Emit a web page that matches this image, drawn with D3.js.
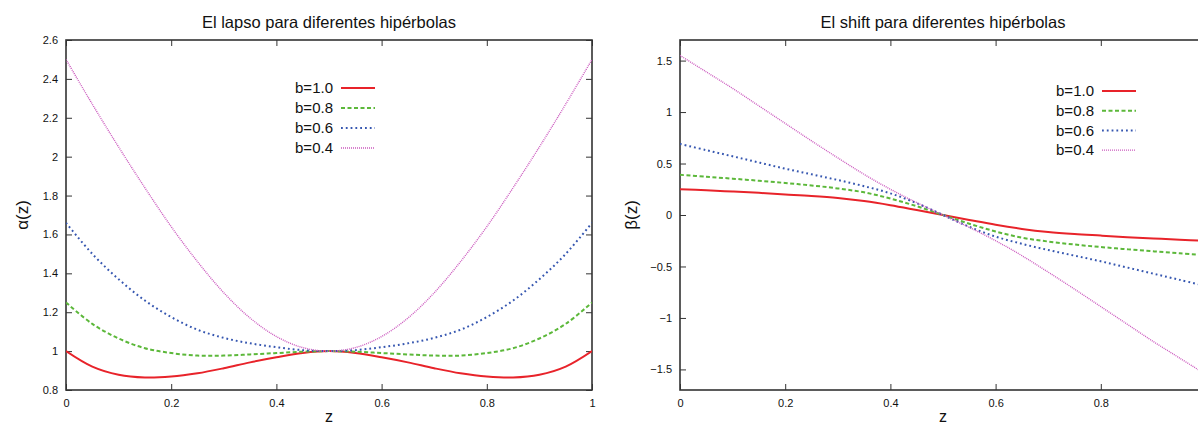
<!DOCTYPE html>
<html>
<head>
<meta charset="utf-8">
<script src="https://cdn.jsdelivr.net/npm/d3@7"></script>
<style>
  html, body { margin: 0; padding: 0; background: #fff; }
  svg { display: block; }
  text { font-family: "Liberation Sans", Arial, Helvetica, sans-serif; fill: #111; }
</style>
</head>
<body>
<svg id="chart" width="1198" height="426"></svg>
<script>
// Sample positions along z
const zGrid = [0, 0.05, 0.1, 0.15, 0.2, 0.25, 0.3, 0.35, 0.4, 0.45, 0.5,
               0.55, 0.6, 0.65, 0.7, 0.75, 0.8, 0.85, 0.9, 0.95, 1];

const seriesLabels = ["b=1.0", "b=0.8", "b=0.6", "b=0.4"];

// Lapse alpha(z) for each hyperbola
const alphaB10 = [1.000, 0.920, 0.878, 0.864, 0.869, 0.886, 0.912, 0.942, 0.968, 0.990, 1.000,
                  0.990, 0.968, 0.942, 0.912, 0.886, 0.869, 0.864, 0.878, 0.920, 1.000];
const alphaB08 = [1.250, 1.140, 1.065, 1.015, 0.990, 0.977, 0.977, 0.983, 0.990, 0.997, 1.000,
                  0.997, 0.990, 0.983, 0.977, 0.977, 0.990, 1.015, 1.065, 1.140, 1.250];
const alphaB06 = [1.660, 1.500, 1.370, 1.260, 1.175, 1.110, 1.068, 1.040, 1.020, 1.005, 1.000,
                  1.005, 1.020, 1.040, 1.068, 1.110, 1.175, 1.260, 1.370, 1.500, 1.660];
const alphaB04 = [2.500, 2.270, 2.050, 1.840, 1.640, 1.460, 1.300, 1.170, 1.075, 1.018, 1.000,
                  1.018, 1.075, 1.170, 1.300, 1.460, 1.640, 1.840, 2.050, 2.270, 2.500];

// Shift beta(z) for each hyperbola
const betaB10 = [0.250, 0.240, 0.228, 0.215, 0.200, 0.185, 0.165, 0.135, 0.095, 0.048, 0.000,
                 -0.048, -0.095, -0.135, -0.165, -0.185, -0.200, -0.215, -0.228, -0.240, -0.250];
const betaB08 = [0.390, 0.372, 0.353, 0.333, 0.311, 0.287, 0.258, 0.220, 0.160, 0.085, 0.000,
                 -0.085, -0.160, -0.220, -0.258, -0.287, -0.311, -0.333, -0.353, -0.372, -0.390];
const betaB06 = [0.690, 0.630, 0.570, 0.510, 0.450, 0.395, 0.340, 0.280, 0.210, 0.115, 0.000,
                 -0.115, -0.210, -0.280, -0.340, -0.395, -0.450, -0.510, -0.570, -0.630, -0.690];
const betaB04 = [1.550, 1.390, 1.230, 1.060, 0.890, 0.720, 0.555, 0.395, 0.250, 0.120, 0.000,
                 -0.120, -0.250, -0.395, -0.555, -0.720, -0.890, -1.060, -1.230, -1.390, -1.550];

// Tick values
const xTicks = [0, 0.2, 0.4, 0.6, 0.8, 1];
const alphaTicks = [0.8, 1, 1.2, 1.4, 1.6, 1.8, 2, 2.2, 2.4, 2.6];
const betaTicks = [-1.5, -1, -0.5, 0, 0.5, 1, 1.5];

// Line styles per series
const styles = [
  { color: "#e8232a", width: 2.0, dash: null },
  { color: "#5cb83a", width: 2.0, dash: "4,2.5" },
  { color: "#3556b0", width: 2.0, dash: "1.8,3" },
  { color: "#cc5bbf", width: 1.4, dash: "1,1" }
];

const svg = d3.select("#chart");
const fmt = v => (v < 0 ? "\u2212" : "") + d3.format("")(Math.abs(v));

function drawPanel(cfg) {
  const x = d3.scaleLinear().domain([0, 1]).range([cfg.x0, cfg.x1]);
  const y = d3.scaleLinear().domain(cfg.yDomain).range([cfg.y1, cfg.y0]);
  const g = svg.append("g");

  const clipId = "clip-" + cfg.id;
  g.append("clipPath").attr("id", clipId)
    .append("rect").attr("x", cfg.x0).attr("y", cfg.y0)
    .attr("width", cfg.x1 - cfg.x0).attr("height", cfg.y1 - cfg.y0);

  // axes with inward ticks, mirrored on top and right
  const styleAxis = sel => {
    sel.select(".domain").remove();
    sel.selectAll(".tick line").attr("stroke", "#333").attr("stroke-width", 1);
    sel.selectAll(".tick text").attr("font-size", 11).attr("fill", "#111")
      .style("font-family", "'Liberation Sans', Arial, sans-serif");
  };
  // x tick labels only where they fall inside the canvas
  const xFmt = v => (x(v) > 1190 ? "" : fmt(v));

  g.append("g").attr("transform", `translate(${cfg.x0},0)`)
    .call(d3.axisLeft(y).tickValues(cfg.yTicks).tickFormat(fmt).tickSizeInner(-6).tickSizeOuter(0).tickPadding(8))
    .call(styleAxis);
  g.append("g").attr("transform", `translate(${cfg.x1},0)`)
    .call(d3.axisRight(y).tickValues(cfg.yTicks).tickFormat("").tickSizeInner(-6).tickSizeOuter(0))
    .call(styleAxis);
  g.append("g").attr("transform", `translate(0,${cfg.y1})`)
    .call(d3.axisBottom(x).tickValues(xTicks).tickFormat(xFmt).tickSizeInner(-6).tickSizeOuter(0).tickPadding(9))
    .call(styleAxis);
  g.append("g").attr("transform", `translate(0,${cfg.y0})`)
    .call(d3.axisTop(x).tickValues(xTicks).tickFormat("").tickSizeInner(-6).tickSizeOuter(0))
    .call(styleAxis);

  // frame
  g.append("rect").attr("x", cfg.x0).attr("y", cfg.y0)
    .attr("width", cfg.x1 - cfg.x0).attr("height", cfg.y1 - cfg.y0)
    .attr("fill", "none").attr("stroke", "#333").attr("stroke-width", 1.6);

  // curves
  const line = d3.line()
    .x((d, i) => x(zGrid[i]))
    .y(d => y(d))
    .curve(d3.curveCatmullRom.alpha(0.5));
  const plot = g.append("g").attr("clip-path", `url(#${clipId})`);
  cfg.series.forEach((vals, k) => {
    const st = styles[k];
    plot.append("path").datum(vals)
      .attr("d", line)
      .attr("fill", "none")
      .attr("stroke", st.color)
      .attr("stroke-width", st.width)
      .attr("stroke-dasharray", st.dash);
  });

  // legend
  const leg = g.append("g");
  seriesLabels.forEach((lab, k) => {
    const st = styles[k];
    const ry = cfg.legendY + k * cfg.legendStep;
    leg.append("text").attr("x", cfg.legendTextX).attr("y", ry)
      .attr("dy", "0.35em").attr("text-anchor", "end").attr("font-size", 15)
      .text(lab);
    leg.append("line")
      .attr("x1", cfg.legendTextX + 8).attr("x2", cfg.legendTextX + 42)
      .attr("y1", ry).attr("y2", ry)
      .attr("stroke", st.color).attr("stroke-width", st.width)
      .attr("stroke-dasharray", st.dash);
  });

  // title and axis labels
  g.append("text").attr("x", (cfg.x0 + cfg.x1) / 2).attr("y", 22)
    .attr("dy", "0.35em").attr("text-anchor", "middle").attr("font-size", 16.5)
    .text(cfg.title);
  g.append("text").attr("x", (cfg.x0 + cfg.x1) / 2).attr("y", 416)
    .attr("dy", "0.35em").attr("text-anchor", "middle").attr("font-size", 16)
    .text("z");
  g.append("text")
    .attr("transform", `translate(${cfg.yLabelX},${(cfg.y0 + cfg.y1) / 2}) rotate(-90)`)
    .attr("dy", "0.35em").attr("text-anchor", "middle").attr("font-size", 17)
    .text(cfg.yLabel);
}

drawPanel({
  id: "alpha", x0: 66, x1: 592, y0: 40, y1: 390,
  yDomain: [0.8, 2.6], yTicks: alphaTicks,
  series: [alphaB10, alphaB08, alphaB06, alphaB04],
  title: "El lapso para diferentes hipérbolas", yLabel: "\u03b1(z)", yLabelX: 22,
  legendTextX: 333, legendY: 88, legendStep: 20
});

drawPanel({
  id: "beta", x0: 680, x1: 1206, y0: 40, y1: 390,
  yDomain: [-1.7, 1.7], yTicks: betaTicks,
  series: [betaB10, betaB08, betaB06, betaB04],
  title: "El shift para diferentes hipérbolas", yLabel: "\u03b2(z)", yLabelX: 631,
  legendTextX: 1094, legendY: 91, legendStep: 19.7
});
</script>
</body>
</html>
